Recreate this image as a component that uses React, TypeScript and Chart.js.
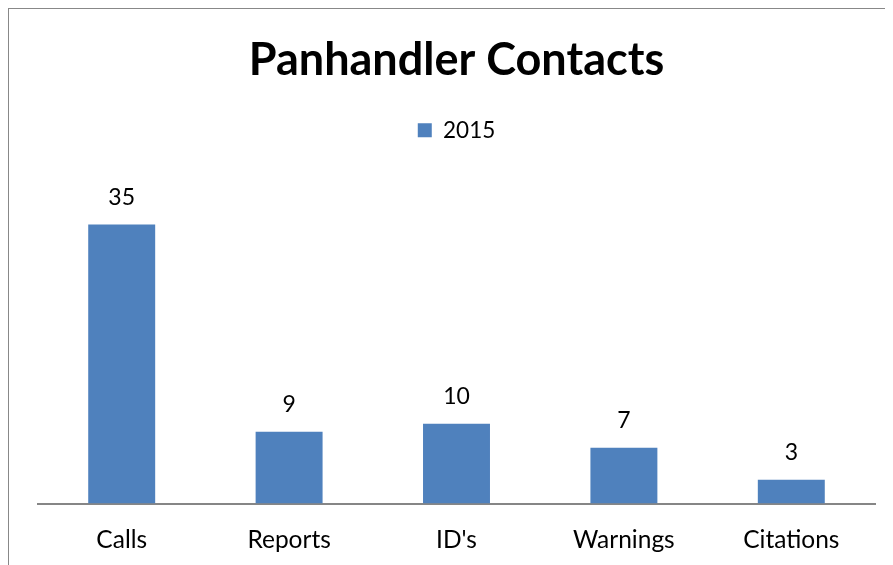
import React, { useEffect, useRef } from "react";
import { Chart, registerables } from "chart.js";

Chart.register(...registerables);

const categories = ["Calls", "Reports", "ID's", "Warnings", "Citations"];
const seriesName = "2015";
const values = [35, 9, 10, 7, 3];
const chartTitle = "Panhandler Contacts";

const FONT = "Lato, 'Open Sans', sans-serif";
const BAR_COLOR = "#4F81BD";
const LEGEND_EXTRA = 33;

const valueLabels = {
  id: "valueLabels",
  afterDatasetsDraw(chart: any) {
    const ctx = chart.ctx;
    const meta = chart.getDatasetMeta(0);
    ctx.save();
    ctx.font = `23px ${FONT}`;
    ctx.fillStyle = "#000";
    ctx.textAlign = "center";
    ctx.textBaseline = "middle";
    meta.data.forEach((bar: any, i: number) => {
      ctx.fillText(String(chart.data.datasets[0].data[i]), bar.x, bar.y - 27);
    });
    ctx.restore();
  },
};

const legendSpacer = {
  id: "legendSpacer",
  beforeInit(chart: any) {
    const legend = chart.legend;
    if (!legend) return;
    const origFit = legend.fit;
    legend.fit = function () {
      origFit.call(this);
      this.height += LEGEND_EXTRA;
    };
  },
};

export default function App() {
  const ref = useRef<HTMLCanvasElement | null>(null);
  useEffect(() => {
    if (!ref.current) return;
    const chart = new Chart(ref.current, {
      type: "bar",
      data: {
        labels: categories,
        datasets: [
          {
            label: seriesName,
            data: values,
            backgroundColor: BAR_COLOR,
            categoryPercentage: 1,
            barPercentage: 0.4,
          },
        ],
      },
      options: {
        animation: false,
        responsive: false,
        maintainAspectRatio: false,
        layout: { padding: { left: 29, right: 18, top: 0, bottom: 12 } },
        plugins: {
          title: {
            display: true,
            text: chartTitle,
            color: "#000",
            font: { family: FONT, size: 45, weight: "bold" },
            padding: { top: 24, bottom: 12 },
          },
          legend: {
            display: true,
            position: "top",
            labels: {
              color: "#000",
              font: { family: FONT, size: 22.5 },
              boxWidth: 14,
              boxHeight: 14,
              padding: 20,
            },
          },
          tooltip: { enabled: false },
        },
        scales: {
          x: {
            grid: { display: false },
            border: { display: true, color: "#868686", width: 2 },
            ticks: { color: "#000", font: { family: FONT, size: 24.5 }, padding: 14 },
          },
          y: {
            display: false,
            min: 0,
            max: 40,
          },
        },
      },
      plugins: [legendSpacer, valueLabels],
    });
    return () => chart.destroy();
  }, []);
  return (
    <div
      style={{
        width: 884,
        height: 572,
        borderLeft: "1px solid #888",
        borderTop: "1px solid #888",
        background: "#fff",
      }}
    >
      <canvas ref={ref} width={884} height={572} style={{ display: "block" }} />
    </div>
  );
}
